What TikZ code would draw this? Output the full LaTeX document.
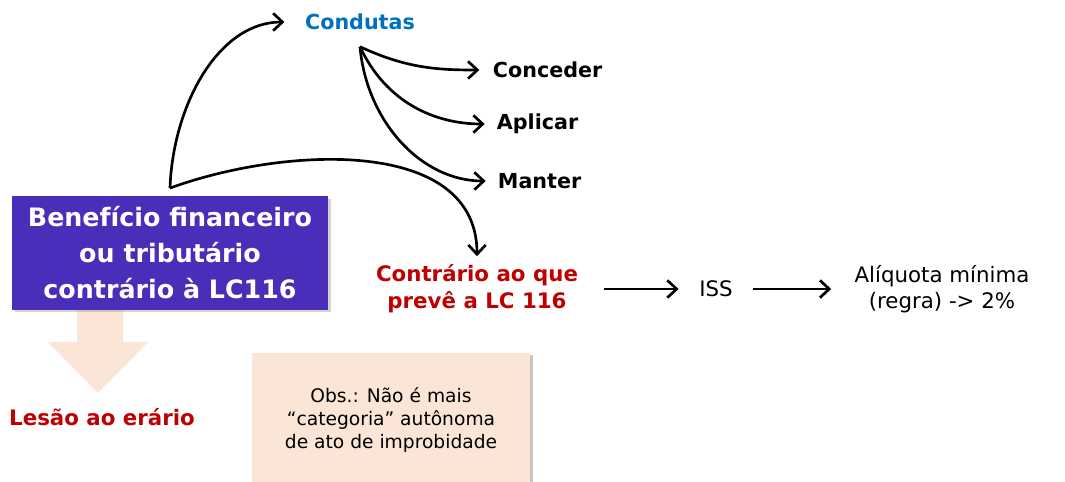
\documentclass[tikz,border=0pt]{standalone}
\usepackage{fontspec}
\setmainfont{DejaVu Sans}
\usetikzlibrary{positioning,arrows.meta,shadows}

\definecolor{boxblue}{HTML}{4A2DB8}
\definecolor{peach}{HTML}{FBE5D6}
\definecolor{lesao}{HTML}{C00000}
\definecolor{condblue}{HTML}{0070C0}

\begin{document}
\begin{tikzpicture}[x=0.75pt,y=-0.75pt,
  conn/.style={-{Straight Barb[length=7pt,width=13pt,line width=2pt]}, line width=2pt},
  verb/.style={font=\fontsize{15.5}{19}\selectfont\bfseries, anchor=west, inner sep=2pt},
  redlbl/.style={font=\fontsize{16}{20}\selectfont\bfseries, text=lesao, align=center},
  plain/.style={font=\fontsize{16}{19.5}\selectfont, align=center}]
\useasboundingbox (0,0) rectangle (1065,482);

% seta larga em pessego
\fill[peach] (77,300) -- (123,300) -- (123,342) -- (148,342) -- (98,393)
  -- (48,342) -- (77,342) -- cycle;

\node [fill=boxblue, text=white, minimum width=237pt, minimum height=85pt,
  align=center, font=\fontsize{19}{27}\selectfont\bfseries,
  drop shadow={opacity=0.35, shadow xshift=2pt, shadow yshift=-2pt}]
  (benef) at (170,253) {Benefício financeiro\\ou tributário\\contrário à LC116};
\coordinate (fork) at ([yshift=6pt]benef.north);

\node [font=\fontsize{15.5}{19}\selectfont\bfseries, text=condblue] (cond) at (360,22) {Condutas};
\coordinate (split) at ([yshift=-9pt]cond.south);

\node [verb] (conceder) at (490,70) {Conceder};
\node [verb] (aplicar) at (494,124) {Aplicar};
\node [verb] (manter) at (495,181) {Manter};

\node [redlbl] (contr) at (477,289) {Contrário ao que\\prevê a LC 116};
\node [plain] (iss) at (716,289) {ISS};
\node [plain] (aliq) at (942,289) {Alíquota mínima\\(regra) -> 2\%};

\node [redlbl] (lesao) at (102,417) {Lesão ao erário};

\node [fill=peach, minimum width=208pt, minimum height=100pt, align=center,
  font=\fontsize{14}{17}\selectfont,
  drop shadow={opacity=0.45, shadow xshift=2.5pt, shadow yshift=-1pt}]
  (obs) at (391,420) {Obs.: Não é mais\\“categoria” autônoma\\de ato de improbidade};

\draw [conn, shorten >=12pt] (fork) to[out=88, in=180] (cond.west);
\draw [conn, shorten >=3pt] (fork) to[out=20, in=90] (contr.north);
\draw [conn, shorten >=8pt] (split) to[out=-25, in=180] (conceder.west);
\draw [conn, shorten >=7pt] (split) to[out=-65, in=180] (aplicar.west);
\draw [conn, shorten >=7pt] (split) to[out=-85, in=180] (manter.west);
\draw [conn, shorten <=16pt, shorten >=12pt] (contr.east) -- (iss.west);
\draw [conn, shorten <=12pt, shorten >=14pt] (iss.east) -- (aliq.west);
\end{tikzpicture}
\end{document}
